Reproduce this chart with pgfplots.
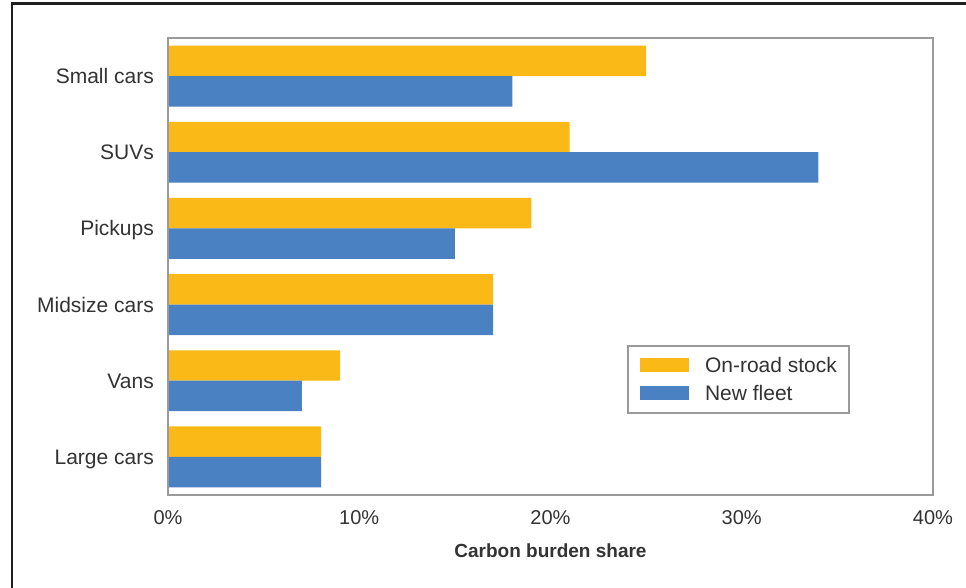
\documentclass[border=0pt]{standalone}
\usepackage{pgfplots}
\pgfplotsset{compat=1.18}
\usepackage{fontspec}
\setmainfont{Liberation Sans}
\definecolor{barorange}{HTML}{FBB917}
\definecolor{barblue}{HTML}{4A81C3}
\definecolor{framegray}{HTML}{9A9A9C}
\definecolor{txt}{HTML}{333333}
\begin{document}
\begin{tikzpicture}[x=1pt,y=1pt]
\useasboundingbox (0,0) rectangle (966,588);
\fill[white] (0,0) rectangle (966,588);
\draw[line width=2.5pt, color=black!88] (12,-3) -- (12,584.3) -- (970,584.3);
\begin{axis}[
  at={(168pt,93pt)}, anchor=south west,
  scale only axis, width=765pt, height=457pt,
  xbar, bar width=0.4,
  xmin=0, xmax=40, ymin=-0.5, ymax=5.5,
  axis line style={draw=framegray, line width=2.5pt},
  axis on top,
  xtick={0,10,20,30,40},
  xticklabels={0\%,10\%,20\%,30\%,40\%},
  ytick={0,1,2,3,4,5},
  yticklabels={Large cars,Vans,Midsize cars,Pickups,SUVs,Small cars},
  major tick length=0pt,
  /pgf/number format/assume math mode=true,
  xticklabel style={font=\fontsize{20}{24}\selectfont, text=txt, inner sep=0pt, yshift=-15pt, anchor=north},
  yticklabel style={font=\fontsize{21}{25}\selectfont, text=txt, inner sep=0pt, xshift=-14pt, anchor=east, text height=15pt, text depth=0pt},
  xlabel={\textbf{Carbon burden share}},
  xlabel style={font=\fontsize{19}{23}\selectfont, text=txt, at={(axis description cs:0.5,0)}, anchor=north, inner sep=0pt, yshift=-49pt},
  legend style={at={(0.6,0.328)}, anchor=north west, draw=framegray, line width=2pt, fill=white,
    font=\fontsize{21}{25}\selectfont, text=txt, inner xsep=12pt, inner ysep=11pt, row sep=11pt,
    nodes={inner sep=0pt}, cells={anchor=west},
    /tikz/every odd column/.append style={column sep=16pt}},
  legend image code/.code={\fill[#1] (0pt,-7pt) rectangle (49pt,7pt);},
  legend cell align=left,
]
\addplot[fill=barorange, draw=none, bar shift=0.2] coordinates {(8,0) (9,1) (17,2) (19,3) (21,4) (25,5)};
\addplot[fill=barblue, draw=none, bar shift=-0.2] coordinates {(8,0) (7,1) (17,2) (15,3) (34,4) (18,5)};
\legend{On-road stock, New fleet}
\end{axis}
\end{tikzpicture}
\end{document}
